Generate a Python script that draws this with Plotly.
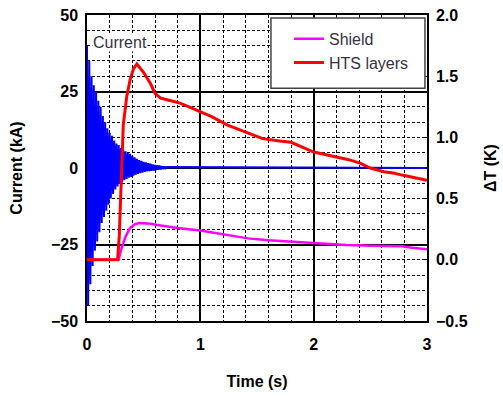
import plotly.graph_objects as go

# Current (kA) damped oscillation – peak values
current_t = [0.00, 0.01, 0.02, 0.03, 0.04, 0.05, 0.06, 0.07, 0.08, 0.09,
             0.10, 0.11, 0.12, 0.13, 0.14, 0.15, 0.16, 0.17, 0.18, 0.19,
             0.20, 0.21, 0.22, 0.23, 0.24, 0.25, 0.26, 0.27, 0.28, 0.29,
             0.30, 0.31, 0.32, 0.33, 0.34, 0.35, 0.36, 0.37, 0.38, 0.39,
             0.40, 0.41, 0.42, 0.43, 0.44, 0.45, 0.46, 0.47, 0.48, 0.49,
             0.50, 0.51, 0.52, 0.53, 0.54, 0.55, 0.56, 0.57, 0.58, 0.59,
             0.60, 0.61, 0.62, 0.63, 0.64, 0.65, 0.66, 0.67, 0.68, 0.69,
             0.70, 3.00]
current_kA = [40, -45, 35, -38, 30, -32, 27, -27, 25, -24,
              22, -21, 20, -18, 17, -16, 15, -14, 13, -12,
              11.5, -10, 10.5, -8.5, 9, -7, 8, -6, 7.5, -5.2,
              6.5, -4.6, 6, -4, 5.5, -3.6, 5, -3.2, 4.6, -2.9,
              4, -2.5, 3.5, -2.2, 3, -1.9, 2.6, -1.7, 2.3, -1.5,
              2, -1.3, 1.8, -1.1, 1.6, -1, 1.4, -0.9, 1.2, -0.8,
              1, -0.7, 0.9, -0.6, 0.8, -0.5, 0.6, -0.4, 0.5, -0.3,
              0.3, 0]

# Temperature rise (K)
hts_t = [0, 0.27, 0.285, 0.295, 0.31, 0.32, 0.35, 0.38, 0.41, 0.44, 0.50,
         0.56, 0.60, 0.65, 0.74, 0.82, 0.90, 1.0, 1.1, 1.24, 1.35, 1.45,
         1.55, 1.7, 1.8, 1.9, 2.0, 2.1, 2.21, 2.3, 2.41, 2.5, 2.62, 2.7,
         2.79, 2.9, 3.0]
hts_dT = [0, 0, 0.2, 0.5, 0.8, 1.1, 1.33, 1.47, 1.56, 1.60, 1.53,
          1.44, 1.36, 1.32, 1.30, 1.28, 1.25, 1.21, 1.17, 1.10, 1.06, 1.02,
          0.99, 0.97, 0.96, 0.92, 0.88, 0.86, 0.84, 0.82, 0.79, 0.75, 0.72, 0.71,
          0.69, 0.67, 0.65]

shield_t = [0, 0.28, 0.30, 0.32, 0.34, 0.38, 0.42, 0.46, 0.50, 0.56, 0.65,
            0.8, 1.0, 1.2, 1.42, 1.6, 1.79, 2.0, 2.29, 2.5, 2.79, 2.85, 3.0]
shield_dT = [0, 0, 0.08, 0.14, 0.19, 0.26, 0.29, 0.30, 0.30, 0.295, 0.28,
             0.26, 0.24, 0.21, 0.175, 0.16, 0.148, 0.14, 0.12, 0.115, 0.11, 0.10, 0.086]

FONT = "Liberation Sans, Arial, sans-serif"

fig = go.Figure()
fig.add_trace(go.Scatter(x=current_t, y=current_kA, mode="lines",
                         line=dict(color="#0000ff", width=2),
                         showlegend=False, yaxis="y"))
fig.add_trace(go.Scatter(x=shield_t, y=shield_dT, mode="lines", name="Shield",
                         line=dict(color="#ff00ff", width=2.5), yaxis="y2"))
fig.add_trace(go.Scatter(x=hts_t, y=hts_dT, mode="lines", name="HTS layers",
                         line=dict(color="#ff0000", width=3), yaxis="y2"))

tickfont = dict(family=FONT, size=16, color="black", weight="bold")
titlefont = dict(family=FONT, size=16, color="black", weight="bold")

fig.update_layout(
    width=503, height=396,
    margin=dict(l=87, r=76, t=15, b=75, autoexpand=False),
    paper_bgcolor="white", plot_bgcolor="white",
    xaxis=dict(range=[0, 3], dtick=1, tick0=0, showgrid=True,
               gridcolor="black", gridwidth=1.5,
               minor=dict(dtick=0.2, showgrid=True, gridcolor="black",
                          gridwidth=1, griddash="3px,2px"),
               showline=True, linecolor="black", linewidth=1.5, mirror=True,
               zeroline=False, ticks="", tickfont=tickfont,
               ticklabelstandoff=8, automargin=False,
               title=dict(text="Time (s)", font=titlefont, standoff=24)),
    yaxis=dict(range=[-50, 50], dtick=25, tick0=0, showgrid=True,
               gridcolor="black", gridwidth=1.5,
               minor=dict(dtick=5, showgrid=True, gridcolor="black",
                          gridwidth=1, griddash="3px,2px"),
               showline=True, linecolor="black", linewidth=1.5,
               zeroline=False, ticks="", tickfont=tickfont,
               ticklabelstandoff=4, automargin=False,
               title=dict(text="Current (kA)", font=titlefont, standoff=24)),
    yaxis2=dict(range=[-0.5, 2.0], dtick=0.5, tick0=0, overlaying="y",
                side="right", showgrid=False, zeroline=False,
                showline=True, linecolor="black", linewidth=1.5,
                ticks="inside", ticklen=4, tickcolor="black",
                tickformat=".1f", tickfont=tickfont, ticklabelstandoff=4,
                automargin=False,
                title=dict(text="ΔT (K)", font=titlefont, standoff=18)),
    legend=dict(x=0.594, y=0.978, xanchor="left", yanchor="top",
                bgcolor="rgba(0,0,0,0)", borderwidth=0,
                font=dict(family=FONT, size=16, color="#333344"),
                itemwidth=30, tracegroupgap=0),
    showlegend=True,
    shapes=[dict(type="rect", xref="paper", yref="paper",
                 x0=0.541, x1=0.994, y0=0.761, y1=0.990,
                 fillcolor="white", line=dict(color="#444444", width=1.5),
                 layer="above")],
    annotations=[dict(text="Current", xref="x", yref="y", x=0.04, y=41,
                      xanchor="left", yanchor="middle", showarrow=False,
                      bgcolor="white", borderpad=0,
                      font=dict(family=FONT, size=16, color="#333344"))],
)

fig.write_html("out.html")
